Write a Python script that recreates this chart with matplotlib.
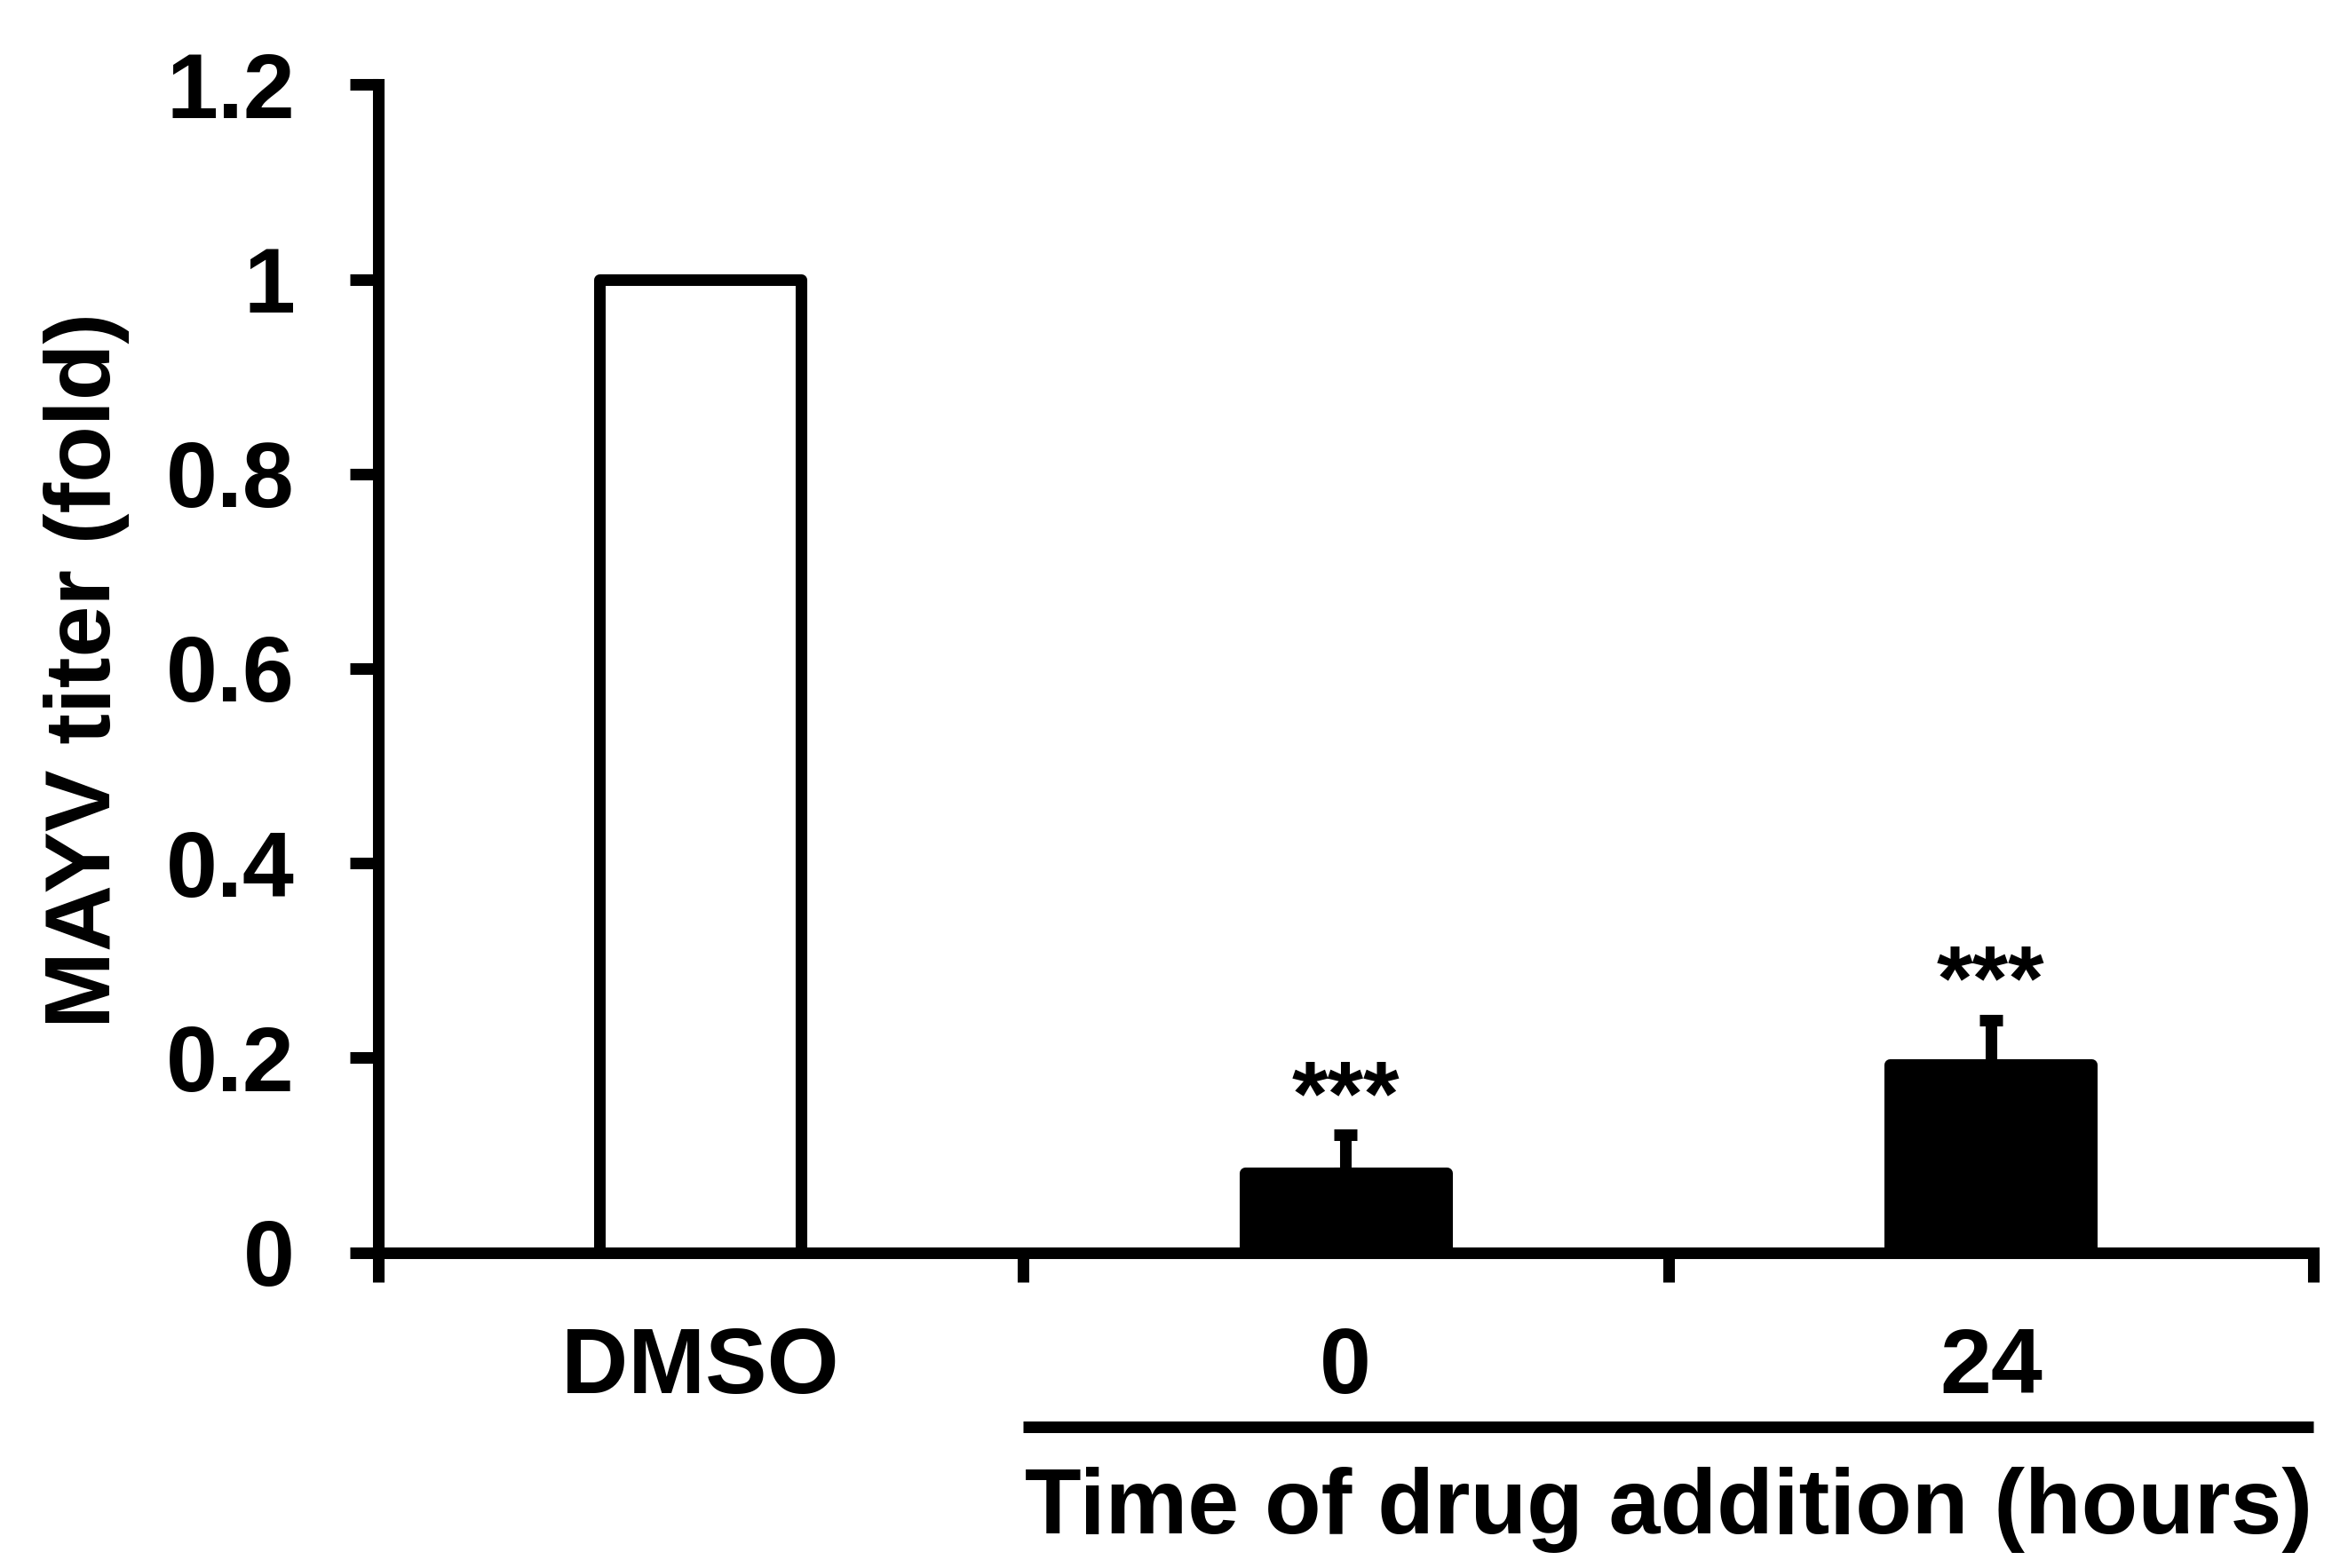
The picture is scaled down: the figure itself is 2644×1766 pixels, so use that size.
import matplotlib
matplotlib.use("Agg")
import matplotlib.pyplot as plt
from matplotlib.lines import Line2D

plt.rcParams['font.family'] = ['Liberation Sans', 'DejaVu Sans']
plt.rcParams['font.weight'] = 'bold'

categories = ["DMSO", "0", "24"]
values = [1.0, 0.082, 0.193]
errors = [0.0, 0.039, 0.046]
colors = ["white", "black", "black"]
significance = ["", "***", "***"]
yticks = [0, 0.2, 0.4, 0.6, 0.8, 1.0, 1.2]
ytick_labels = ["0", "0.2", "0.4", "0.6", "0.8", "1", "1.2"]
ylabel = "MAYV titer (fold)"
group_label = "Time of drug addition (hours)"

W, H, DPI = 2644, 1766, 200
fig = plt.figure(figsize=(W / DPI, H / DPI), dpi=DPI)
ax_left = 425.5 / W
ax_right = 2605 / W
ax_bottom = (H - 1410.5) / H
ax_top = (H - 95.5) / H
ax = fig.add_axes([ax_left, ax_bottom, ax_right - ax_left, ax_top - ax_bottom])

lw = 4.7
fs = 37.5
x = list(range(len(categories)))
bars = ax.bar(x, values, width=0.3125, color=colors, edgecolor="black",
              linewidth=lw, zorder=3)
for b in bars:
    b.set_joinstyle('round')

# error bars (upper only) for treated groups
for xi, v, e in zip(x, values, errors):
    if e > 0:
        ax.errorbar([xi], [v], yerr=[[0], [e]], fmt='none', ecolor='black',
                    elinewidth=lw, capsize=4.7, capthick=lw, zorder=2)

# significance stars
for xi, v, e, s in zip(x, values, errors, significance):
    if s:
        ax.annotate(s, xy=(xi, v + e), xytext=(0, 4), textcoords='offset points',
                    ha='center', va='baseline', fontsize=fs, fontweight='bold')

ax.set_xlim(-0.5, 2.5)
ax.set_ylim(0, 1.2)
ax.spines['top'].set_visible(False)
ax.spines['right'].set_visible(False)
ax.spines['left'].set_linewidth(lw)
ax.spines['bottom'].set_linewidth(lw)

ax.set_yticks(yticks)
ax.set_yticklabels(ytick_labels)
ax.tick_params(axis='y', direction='out', length=11.7, width=lw, pad=22,
               labelsize=fs)

# major x ticks at group boundaries (no labels), minor at centers with labels
ax.set_xticks([-0.5, 0.5, 1.5, 2.5])
ax.set_xticklabels(["", "", "", ""])
ax.tick_params(axis='x', which='major', direction='out', length=11.7, width=lw)
ax.set_xticks(x, minor=True)
ax.set_xticklabels(categories, minor=True)
ax.tick_params(axis='x', which='minor', length=0, pad=30, labelsize=fs)

for lab in ax.get_xticklabels(minor=True) + ax.get_yticklabels():
    lab.set_fontweight('bold')

# group line and label
trans = ax.get_xaxis_transform()
line_y = (1410.5 - 1607) / (1410.5 - 95.5)
ax.add_line(Line2D([0.5, 2.5], [line_y, line_y], transform=trans, color='black',
                   linewidth=lw, clip_on=False, solid_capstyle='butt'))
text_y = (1410.5 - 1652) / (1410.5 - 95.5)
ax.text(1.5, text_y, group_label, transform=trans, ha='center', va='top',
        fontsize=fs, fontweight='bold', clip_on=False)

fig.text(98 / W, (H - 755) / H, ylabel, rotation=90, ha='center', va='center',
         fontsize=fs, fontweight='bold')

fig.savefig("out.png", dpi=DPI)
